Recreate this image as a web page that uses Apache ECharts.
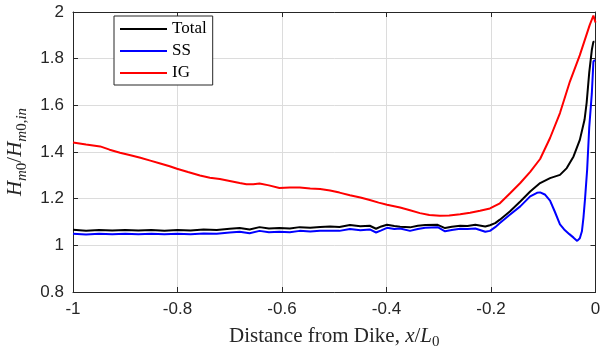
<!DOCTYPE html>
<html>
<head>
<meta charset="utf-8">
<script src="https://cdn.jsdelivr.net/npm/echarts@6/dist/echarts.min.js"></script>
<style>
html,body{margin:0;padding:0;background:#fff;}
#chart{width:601px;height:354px;}
</style>
</head>
<body>
<div id="chart"></div>
<script>
// ---- data ----
var xTotal = [-1.0,-0.975,-0.95,-0.925,-0.9,-0.875,-0.85,-0.825,-0.8,-0.775,-0.75,-0.725,-0.7,-0.681,-0.662,-0.643,-0.625,-0.605,-0.585,-0.566,-0.546,-0.527,-0.508,-0.49,-0.47,-0.45,-0.432,-0.42,-0.41,-0.399,-0.385,-0.374,-0.355,-0.34,-0.326,-0.302,-0.288,-0.275,-0.259,-0.245,-0.23,-0.211,-0.202,-0.192,-0.183,-0.164,-0.144,-0.125,-0.106,-0.087,-0.068,-0.055,-0.042,-0.030,-0.021,-0.017,-0.012,-0.007,-0.004,-0.002];
var yTotal = [1.067,1.063,1.066,1.064,1.066,1.064,1.066,1.063,1.066,1.064,1.068,1.066,1.071,1.074,1.068,1.078,1.072,1.074,1.072,1.078,1.075,1.079,1.081,1.079,1.087,1.082,1.084,1.071,1.081,1.088,1.083,1.080,1.077,1.084,1.087,1.088,1.074,1.080,1.084,1.083,1.088,1.081,1.086,1.095,1.110,1.145,1.188,1.231,1.267,1.288,1.302,1.331,1.381,1.452,1.538,1.610,1.740,1.838,1.873,1.873];

var xSS = [-1.0,-0.975,-0.95,-0.925,-0.9,-0.875,-0.85,-0.825,-0.8,-0.775,-0.75,-0.725,-0.7,-0.681,-0.662,-0.643,-0.625,-0.605,-0.585,-0.566,-0.546,-0.527,-0.508,-0.49,-0.47,-0.45,-0.432,-0.42,-0.41,-0.399,-0.385,-0.374,-0.355,-0.34,-0.326,-0.302,-0.288,-0.275,-0.259,-0.245,-0.23,-0.211,-0.202,-0.192,-0.183,-0.164,-0.144,-0.125,-0.112,-0.106,-0.097,-0.087,-0.078,-0.068,-0.060,-0.050,-0.042,-0.035,-0.030,-0.026,-0.023,-0.020,-0.016,-0.012,-0.007,-0.004,-0.001];
var ySS = [1.050,1.046,1.050,1.047,1.050,1.047,1.050,1.047,1.050,1.048,1.051,1.050,1.055,1.058,1.052,1.062,1.056,1.058,1.056,1.062,1.059,1.062,1.063,1.062,1.070,1.065,1.068,1.055,1.064,1.075,1.070,1.072,1.062,1.070,1.075,1.078,1.060,1.066,1.071,1.070,1.072,1.058,1.062,1.078,1.096,1.131,1.167,1.210,1.225,1.227,1.218,1.192,1.145,1.090,1.068,1.048,1.033,1.019,1.030,1.060,1.120,1.200,1.324,1.505,1.652,1.788,1.795];

var xIG = [-1.0,-0.975,-0.948,-0.93,-0.91,-0.89,-0.871,-0.852,-0.833,-0.815,-0.801,-0.78,-0.757,-0.738,-0.719,-0.7,-0.681,-0.668,-0.655,-0.643,-0.625,-0.605,-0.585,-0.566,-0.546,-0.527,-0.508,-0.49,-0.47,-0.45,-0.432,-0.415,-0.399,-0.374,-0.355,-0.336,-0.318,-0.298,-0.28,-0.259,-0.24,-0.221,-0.202,-0.183,-0.164,-0.144,-0.125,-0.106,-0.087,-0.068,-0.049,-0.030,-0.011,-0.004,-0.001,0.0];
var yIG = [1.441,1.432,1.424,1.410,1.397,1.386,1.375,1.363,1.351,1.339,1.328,1.314,1.299,1.290,1.284,1.276,1.267,1.262,1.262,1.265,1.257,1.246,1.248,1.248,1.244,1.241,1.235,1.226,1.215,1.205,1.194,1.183,1.174,1.162,1.150,1.138,1.130,1.127,1.128,1.133,1.140,1.148,1.158,1.180,1.222,1.267,1.315,1.370,1.460,1.567,1.702,1.815,1.945,1.985,1.990,1.955];

var seriesNames = ['Total', 'SS', 'IG'];
var seriesColors = ['#000000', '#0000ff', '#ff0000'];
var xTicks = [-1, -0.8, -0.6, -0.4, -0.2, 0];
var yTicks = [0.8, 1, 1.2, 1.4, 1.6, 1.8, 2];

function pairs(xs, ys) {
  var out = [];
  for (var i = 0; i < xs.length; i++) out.push([xs[i], ys[i]]);
  return out;
}
var allX = [xTotal, xSS, xIG];
var allY = [yTotal, ySS, yIG];

var axisCol = '#262626';
var gridCol = '#dcdcdc';
var tickFont = 'Liberation Sans, Arial, sans-serif';
var serif = 'Liberation Serif, Times New Roman, serif';

var chart = echarts.init(document.getElementById('chart'), null, {renderer: 'canvas'});

var series = seriesNames.map(function (n, i) {
  return {
    name: n,
    type: 'line',
    data: pairs(allX[i], allY[i]),
    showSymbol: false,
    symbol: 'none',
    lineStyle: {color: seriesColors[i], width: 2},
    itemStyle: {color: seriesColors[i]},
    z: 3 + i
  };
});

var richT = {
  n: {fontFamily: serif, fontSize: 21, color: axisCol, lineHeight: 28, verticalAlign: 'middle'},
  i: {fontFamily: serif, fontSize: 21, fontStyle: 'italic', color: axisCol, lineHeight: 28, verticalAlign: 'middle'},
  s: {fontFamily: serif, fontSize: 15, color: axisCol, lineHeight: 15, verticalAlign: 'bottom'},
  si: {fontFamily: serif, fontSize: 15, fontStyle: 'italic', color: axisCol, lineHeight: 15, verticalAlign: 'bottom'}
};

chart.setOption({
  animation: false,
  backgroundColor: '#ffffff',
  grid: {left: 73, right: 5.5, top: 12, bottom: 62, containLabel: false, outerBoundsMode: 'none'},
  legend: {
    orient: 'vertical',
    left: 114,
    top: 16,
    padding: [4, 6, 3, 6],
    itemGap: 4,
    itemWidth: 47,
    itemHeight: 2,
    icon: 'rect',
    backgroundColor: '#ffffff',
    borderColor: axisCol,
    borderWidth: 1,
    borderRadius: 0,
    data: seriesNames,
    textStyle: {fontFamily: serif, fontSize: 17, color: '#000', lineHeight: 18, padding: [0, 0, 0, 0]}
  },
  xAxis: [{
    type: 'value', min: xTicks[0], max: xTicks[xTicks.length - 1], interval: 0.2,
    position: 'bottom',
    axisLine: {show: true, onZero: false, lineStyle: {color: axisCol, width: 1}},
    axisTick: {show: true, inside: true, length: 5, lineStyle: {color: axisCol}},
    axisLabel: {fontFamily: tickFont, fontSize: 17, color: axisCol, margin: 9},
    splitLine: {show: true, lineStyle: {color: gridCol, width: 1}},
    name: '{n|Distance from Dike, }{i|x}{n|/}{i|L}{s|0}',
    nameLocation: 'middle',
    nameGap: 30,
    nameTextStyle: {rich: richT}
  }, {
    type: 'value', min: xTicks[0], max: xTicks[xTicks.length - 1], interval: 0.2,
    position: 'top',
    axisLine: {show: true, onZero: false, lineStyle: {color: axisCol, width: 1}},
    axisTick: {show: true, inside: true, length: 5, lineStyle: {color: axisCol}},
    axisLabel: {show: false},
    splitLine: {show: false}
  }],
  yAxis: [{
    type: 'value', min: yTicks[0], max: yTicks[yTicks.length - 1], interval: 0.2,
    position: 'left',
    axisLine: {show: true, onZero: false, lineStyle: {color: axisCol, width: 1}},
    axisTick: {show: true, inside: true, length: 5, lineStyle: {color: axisCol}},
    axisLabel: {fontFamily: tickFont, fontSize: 17, color: axisCol, margin: 9},
    splitLine: {show: true, lineStyle: {color: gridCol, width: 1}},
    name: '{i|H}{si|m}{s|0}{n|/}{i|H}{si|m}{s|0,}{si|in}',
    nameLocation: 'middle',
    nameGap: 33,
    nameRotate: 90,
    nameTextStyle: {rich: richT}
  }, {
    type: 'value', min: yTicks[0], max: yTicks[yTicks.length - 1], interval: 0.2,
    position: 'right',
    axisLine: {show: true, onZero: false, lineStyle: {color: axisCol, width: 1}},
    axisTick: {show: true, inside: true, length: 5, lineStyle: {color: axisCol}},
    axisLabel: {show: false},
    splitLine: {show: false}
  }],
  series: series
});
</script>
</body>
</html>
